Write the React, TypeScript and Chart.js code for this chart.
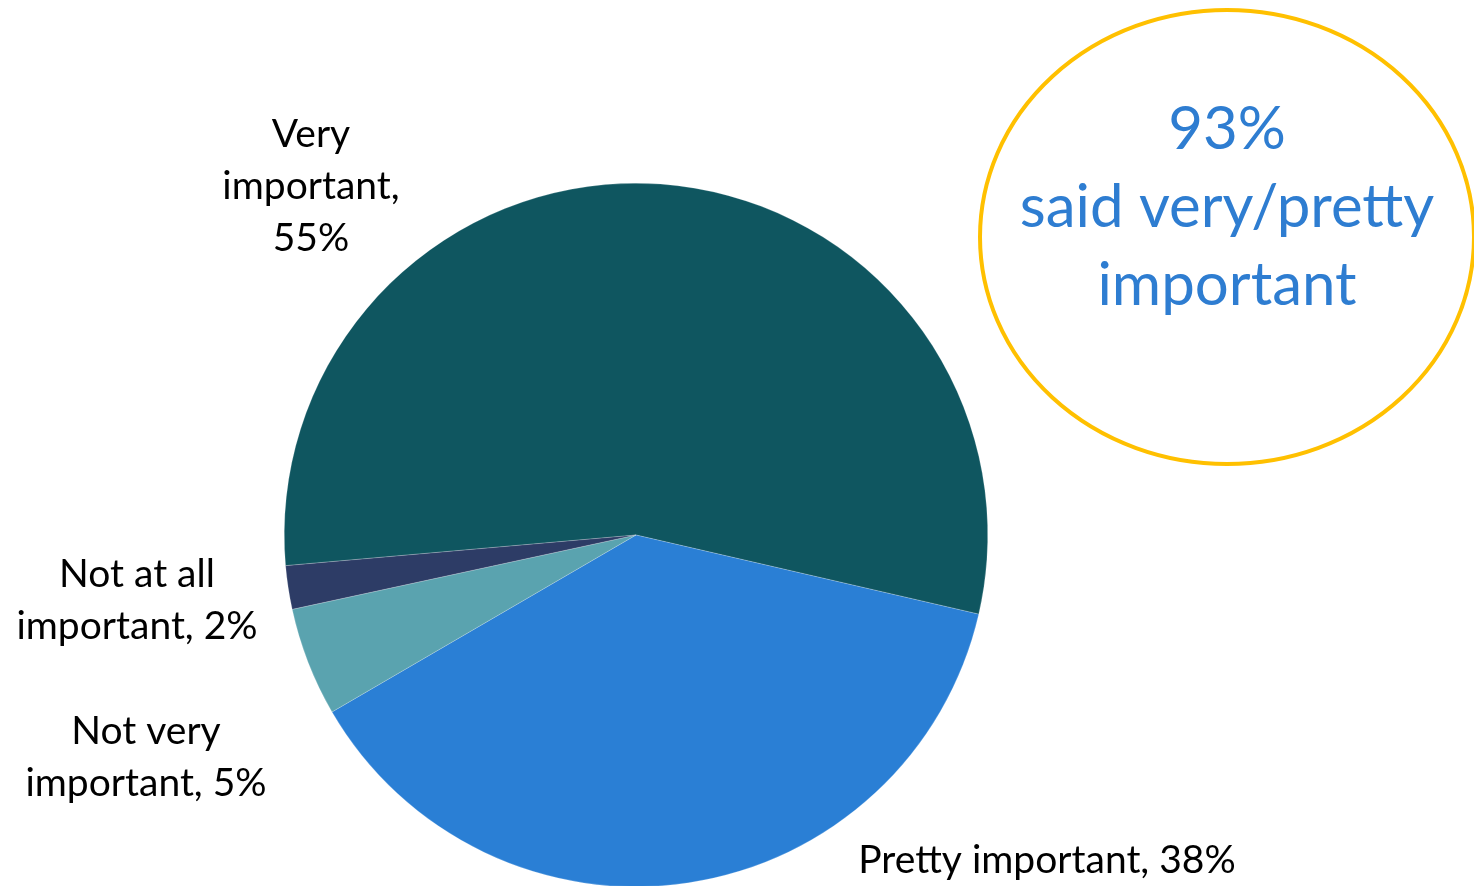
import React, { useEffect, useRef } from "react";
import { Chart, registerables } from "chart.js";

Chart.register(...registerables);

const categories = ["Very important", "Pretty important", "Not very important", "Not at all important"];
const values = [55, 38, 5, 2];
const colors = ["#0F5660", "#2A7FD5", "#5AA3AF", "#2D3C66"];
const wordsPerLine = [[1, 1, 1], [3], [2, 2], [3, 2]];
const labelCenters = [[311, 186], [1047, 860], [146, 757], [137, 600]];
const calloutLines = ["93%", "said very/pretty", "important"];

const FONT = "Lato, 'Liberation Sans', sans-serif";

function buildLines(i: number): string[] {
  const words = `${categories[i]}, ${values[i]}%`.split(" ");
  const out: string[] = [];
  let k = 0;
  for (const n of wordsPerLine[i]) {
    out.push(words.slice(k, k + n).join(" "));
    k += n;
  }
  return out;
}

const overlayPlugin = {
  id: "overlay",
  afterDraw(chart: any) {
    const ctx = chart.ctx as CanvasRenderingContext2D;
    ctx.save();
    ctx.fillStyle = "#000000";
    ctx.font = `39px ${FONT}`;
    ctx.textAlign = "center";
    ctx.textBaseline = "middle";
    const lh = 52;
    categories.forEach((_, i) => {
      const lines = buildLines(i);
      const [cx, cy] = labelCenters[i];
      const y0 = cy - ((lines.length - 1) * lh) / 2;
      lines.forEach((l, j) => ctx.fillText(l, cx, y0 + j * lh));
    });
    ctx.beginPath();
    ctx.ellipse(1227, 237, 247, 227, 0, 0, Math.PI * 2);
    ctx.strokeStyle = "#FFC000";
    ctx.lineWidth = 4;
    ctx.stroke();
    ctx.fillStyle = "#2E7DD1";
    ctx.font = `60px ${FONT}`;
    const ys = [130, 208, 286];
    calloutLines.forEach((l, j) => ctx.fillText(l, 1227, ys[j]));
    ctx.restore();
  },
};

export default function App() {
  const ref = useRef<HTMLCanvasElement>(null);
  useEffect(() => {
    if (!ref.current) return;
    const chart = new Chart(ref.current, {
      type: "pie",
      data: {
        labels: categories,
        datasets: [
          {
            data: values,
            backgroundColor: colors,
            borderColor: "rgba(255,255,255,0.4)",
            borderWidth: 0.5,
          },
        ],
      },
      options: {
        responsive: false,
        animation: false,
        rotation: 265,
        layout: { padding: { left: 284, right: 486, top: 183, bottom: 13 } },
        plugins: { legend: { display: false }, tooltip: { enabled: false }, title: { display: false } },
      },
      plugins: [overlayPlugin],
    });
    return () => chart.destroy();
  }, []);
  return (
    <div style={{ position: "fixed", left: 0, top: 0, width: 1474, height: 886, overflow: "hidden", background: "#fff" }}>
      <canvas ref={ref} width={1474} height={900} style={{ display: "block" }} />
    </div>
  );
}
